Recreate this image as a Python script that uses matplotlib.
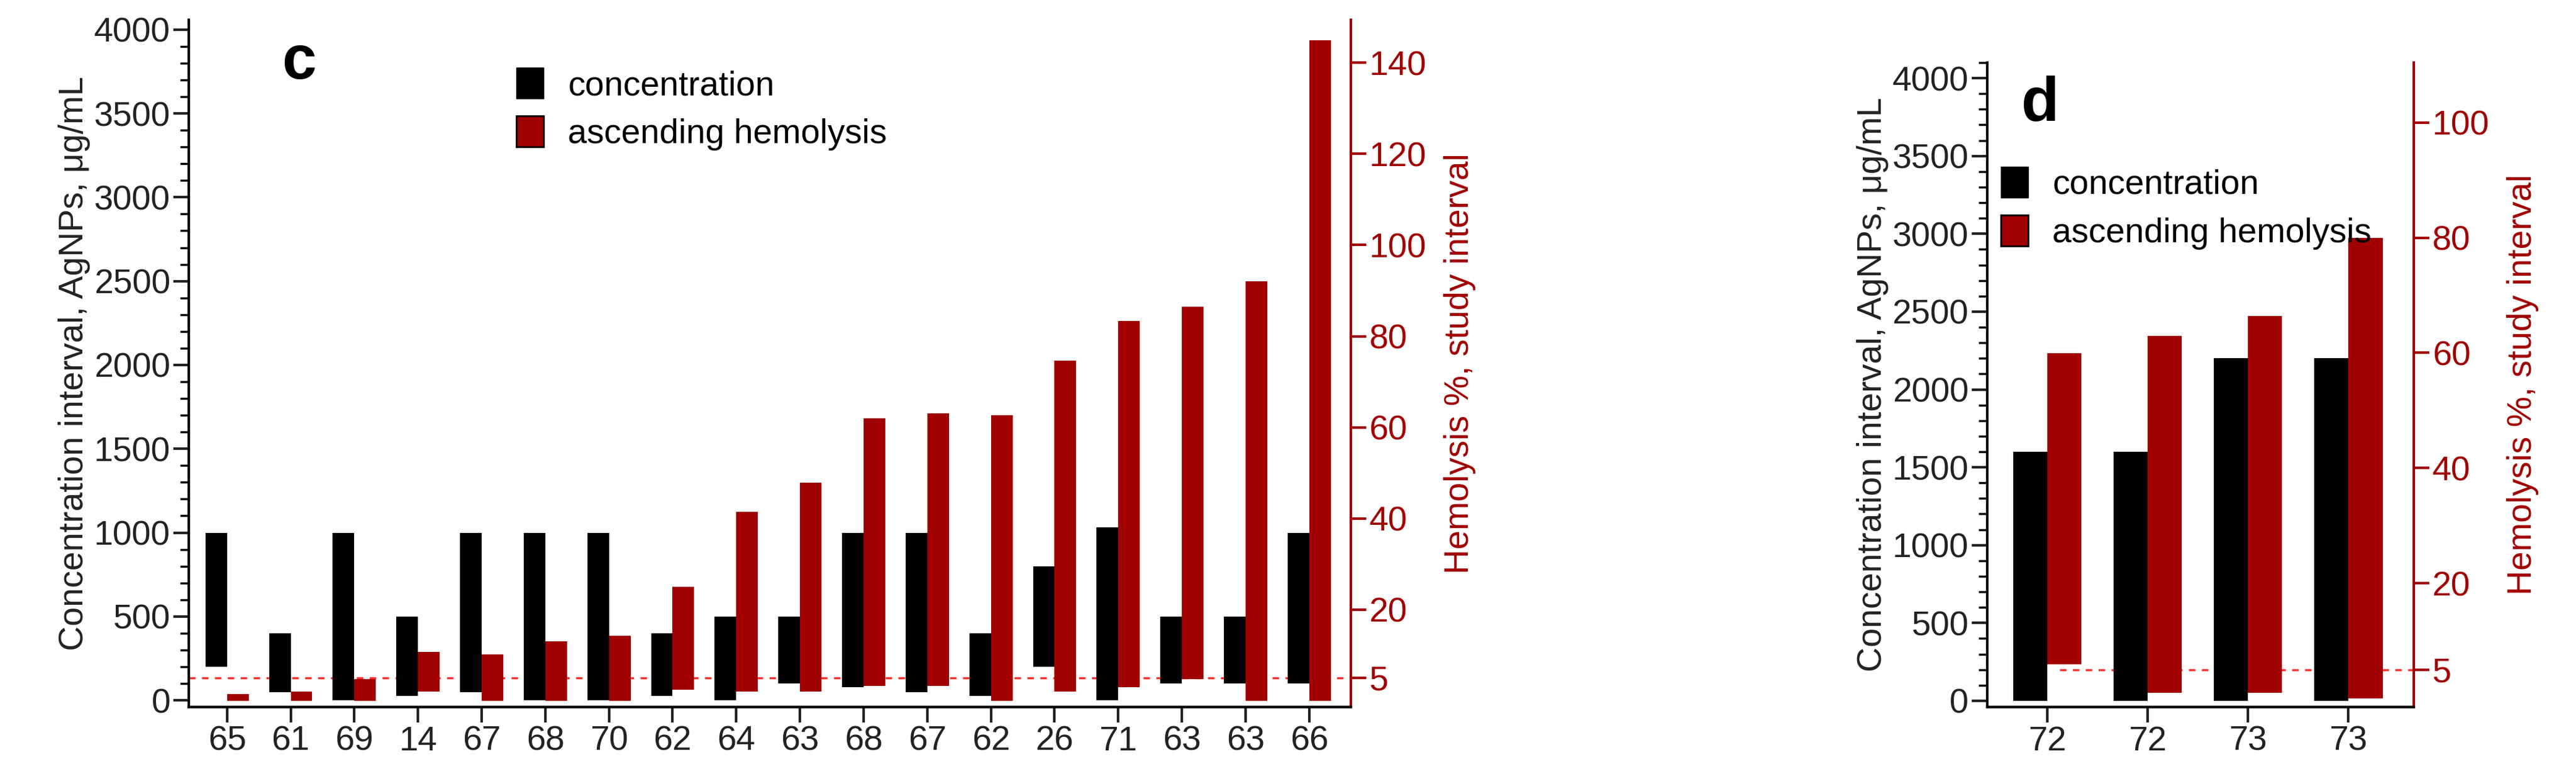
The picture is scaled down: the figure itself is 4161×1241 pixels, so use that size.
import numpy as np
import matplotlib
matplotlib.use("Agg")
from matplotlib import pyplot as plt
from matplotlib.patches import Patch
from matplotlib.ticker import MultipleLocator

plt.rcParams['font.family'] = ['Liberation Sans', 'DejaVu Sans']

RED = '#a00000'

# panel c
c_labels = ['65', '61', '69', '14', '67', '68', '70', '62', '64', '63',
            '68', '67', '62', '26', '71', '63', '63', '66']
c_conc_low = [200, 50, 0, 25, 50, 0, 0, 25, 0, 100, 80, 50, 25, 200, 0, 100, 100, 100]
c_conc_high = [1000, 400, 1000, 500, 1000, 1000, 1000, 400, 500, 500,
               1000, 1000, 400, 800, 1030, 500, 500, 1000]
c_hem_low = [0, 0, 0, 2, 0, 0, 0, 2.4, 2, 2, 3.2, 3.2, 0, 2, 3, 4.7, 0, 0]
c_hem_high = [1.5, 2, 4.7, 10.7, 10.2, 13, 14.2, 25, 41.4, 47.8,
              62, 63, 62.6, 74.6, 83.4, 86.5, 92, 145]

# panel d
d_labels = ['72', '72', '73', '73']
d_conc_low = [0, 0, 0, 0]
d_conc_high = [1600, 1600, 2200, 2200]
d_hem_low = [5.9, 1, 1, 0]
d_hem_high = [59.9, 63, 66.4, 80]

FS = 40


def panel(rect, letter, labels, clo, chi, hlo, hhi, ylim_l, ylim_r, rticks,
          leg_anchor, dash_start):
    ax = fig.add_axes(rect)
    ax2 = ax.twinx()
    x = np.arange(len(labels))
    w = 0.34
    ax.bar(x - w / 2, np.array(chi) - np.array(clo), w, bottom=clo, color='black', zorder=3)
    ax2.bar(x + w / 2, np.array(hhi) - np.array(hlo), w, bottom=hlo, color=RED, zorder=3)
    ax2.axhline(5, xmin=dash_start, xmax=1, color='#ff3030', ls=(0, (3, 3)), lw=2.5, zorder=2)

    ax.set_xlim(-0.6, len(labels) - 0.35)
    ax.set_ylim(*ylim_l)
    ax2.set_ylim(*ylim_r)
    ax.set_xticks(x)
    ax.set_xticklabels(labels)
    ax.yaxis.set_major_locator(MultipleLocator(500))
    ax.yaxis.set_minor_locator(MultipleLocator(100))
    ax2.set_yticks(rticks)

    for s in ['top', 'right']:
        ax.spines[s].set_visible(False)
    for s in ['top', 'left']:
        ax2.spines[s].set_visible(False)
    ax.spines['left'].set_linewidth(3)
    ax.spines['bottom'].set_linewidth(3)
    ax2.spines['right'].set_color(RED)
    ax2.spines['right'].set_linewidth(3)
    ax2.spines['bottom'].set_color(RED)
    ax2.spines['bottom'].set_linewidth(3)
    ax2.spines['bottom'].set_zorder(1)

    ax.tick_params(axis='both', which='major', labelsize=FS, length=18, width=3,
                   direction='out', colors='#222222')
    ax.tick_params(axis='y', which='minor', length=10, width=2.5)
    ax2.tick_params(axis='y', labelsize=FS, length=18, width=3, colors=RED)

    ax.set_ylabel('Concentration interval, AgNPs, μg/mL', fontsize=FS, color='#222222')
    ax2.set_ylabel('Hemolysis %, study interval', fontsize=FS, color=RED, labelpad=20)

    ax.text(0.08, 0.98, letter, transform=ax.transAxes, fontsize=72,
            fontweight='bold', va='top', ha='left')
    handles = [Patch(facecolor='black', edgecolor='black', label='concentration'),
               Patch(facecolor=RED, edgecolor='black', linewidth=2, label='ascending hemolysis')]
    ax.legend(handles=handles, loc='upper left', bbox_to_anchor=leg_anchor,
              frameon=False, fontsize=FS, handlelength=0.8, handleheight=1.0,
              handletextpad=0.7, borderaxespad=0, labelspacing=0.4)
    ax.set_zorder(ax2.get_zorder() + 1)
    ax.patch.set_visible(False)
    return ax, ax2


fig = plt.figure(figsize=(41.61, 12.41), dpi=100)

panel([0.0733, 0.0806, 0.451, 0.894], 'c', c_labels, c_conc_low, c_conc_high,
      c_hem_low, c_hem_high, (-40, 4060), (-1.4, 149.5),
      [5, 20, 40, 60, 80, 100, 120, 140], (0.27, 0.95), 0.0)

panel([0.7714, 0.0806, 0.1656, 0.838], 'd', d_labels, d_conc_low, d_conc_high,
      d_hem_low, d_hem_high, (-40, 4100), (-1.5, 110.4),
      [5, 20, 40, 60, 80, 100], (0.0, 0.86), 0.17)

fig.savefig('out.png', dpi=100)
